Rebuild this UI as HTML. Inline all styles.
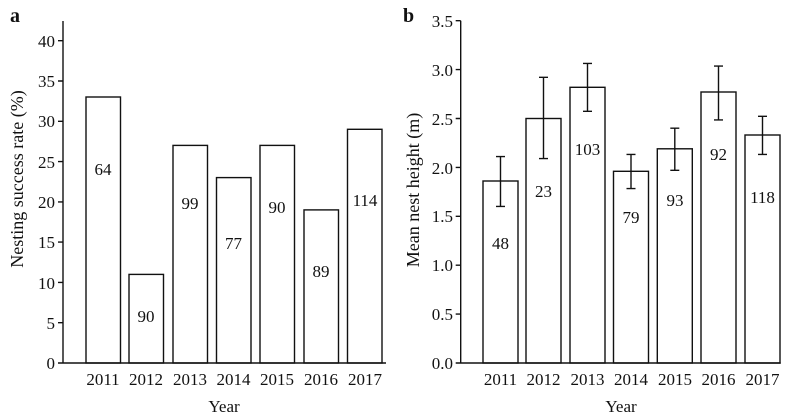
<!DOCTYPE html>
<html><head><style>body{margin:0;background:#fff}svg{display:block}text{font-family:"Liberation Serif",serif;fill:#111}</style></head><body>
<svg width="788" height="417" viewBox="0 0 788 417" xmlns="http://www.w3.org/2000/svg">
<g stroke="#111" stroke-width="1.4" fill="none">
<line x1="63" y1="21" x2="63" y2="363"/><line x1="58" y1="363" x2="386" y2="363"/>
<path d="M58 40.7H63M58 81H63M58 121.3H63M58 161.6H63M58 201.9H63M58 242.1H63M58 282.4H63M58 322.7H63"/>
<rect x="86" y="97" width="34.5" height="266"/>
<rect x="129" y="274.4" width="34.5" height="88.6"/>
<rect x="173" y="145.4" width="34.5" height="217.6"/>
<rect x="216.5" y="177.6" width="34.5" height="185.4"/>
<rect x="260" y="145.4" width="34.5" height="217.6"/>
<rect x="304" y="209.9" width="34.5" height="153.1"/>
<rect x="347.5" y="129.3" width="34.5" height="233.7"/>
<line x1="460.7" y1="20.7" x2="460.7" y2="363"/><line x1="455.7" y1="363" x2="780.7" y2="363"/>
<path d="M455.7 20.7H460.7M455.7 69.6H460.7M455.7 118.5H460.7M455.7 167.4H460.7M455.7 216.3H460.7M455.7 265.2H460.7M455.7 314.1H460.7"/>
<rect x="483" y="181" width="35" height="182"/>
<rect x="526" y="118.5" width="35" height="244.5"/>
<rect x="570" y="87.3" width="35" height="275.7"/>
<rect x="613.5" y="171.3" width="35" height="191.7"/>
<rect x="657.3" y="148.8" width="35" height="214.2"/>
<rect x="701" y="92" width="35" height="271"/>
<rect x="745" y="135" width="35" height="228"/>
<path d="M500.5 156.6V206.4M496 156.6h9M496 206.4h9"/>
<path d="M543.5 77.3V158.6M539 77.3h9M539 158.6h9"/>
<path d="M587.5 63.4V111.3M583 63.4h9M583 111.3h9"/>
<path d="M631 154.4V188.6M626.5 154.4h9M626.5 188.6h9"/>
<path d="M674.8 128.2V170.3M670.3 128.2h9M670.3 170.3h9"/>
<path d="M718.5 66.1V119.9M714 66.1h9M714 119.9h9"/>
<path d="M762.5 116.3V154.4M758 116.3h9M758 154.4h9"/>
</g>
<g font-size="17">
<text x="10" y="22" font-weight="bold" font-size="20">a</text>
<text x="403" y="22" font-weight="bold" font-size="20">b</text>
<g text-anchor="end">
<text x="55" y="47">40</text><text x="55" y="87">35</text><text x="55" y="127">30</text><text x="55" y="168">25</text><text x="55" y="208">20</text><text x="55" y="248">15</text><text x="55" y="289">10</text><text x="55" y="329">5</text><text x="55" y="369">0</text>
<text x="453" y="27">3.5</text><text x="453" y="76">3.0</text><text x="453" y="125">2.5</text><text x="453" y="174">2.0</text><text x="453" y="222">1.5</text><text x="453" y="271">1.0</text><text x="453" y="320">0.5</text><text x="453" y="369">0.0</text>
</g>
<g text-anchor="middle">
<text x="103" y="385">2011</text><text x="146" y="385">2012</text><text x="190" y="385">2013</text><text x="233.5" y="385">2014</text><text x="277" y="385">2015</text><text x="321" y="385">2016</text><text x="365" y="385">2017</text>
<text x="500.5" y="385">2011</text><text x="543.5" y="385">2012</text><text x="587.5" y="385">2013</text><text x="631" y="385">2014</text><text x="675" y="385">2015</text><text x="718.5" y="385">2016</text><text x="762.5" y="385">2017</text>
<text x="224" y="412">Year</text><text x="621" y="412">Year</text>
<text x="103" y="175">64</text><text x="146" y="322">90</text><text x="190" y="209">99</text><text x="233.5" y="249">77</text><text x="277" y="213">90</text><text x="321" y="277">89</text><text x="365" y="206">114</text>
<text x="500.5" y="249">48</text><text x="543.5" y="197">23</text><text x="587.5" y="155">103</text><text x="631" y="223">79</text><text x="675" y="206">93</text><text x="718.5" y="160">92</text><text x="762.5" y="203">118</text>
<text font-size="18" transform="translate(23 179) rotate(-90)">Nesting success rate (%)</text>
<text font-size="18" transform="translate(419 190) rotate(-90)">Mean nest height (m)</text>
</g>
</g>
</svg>
</body></html>
